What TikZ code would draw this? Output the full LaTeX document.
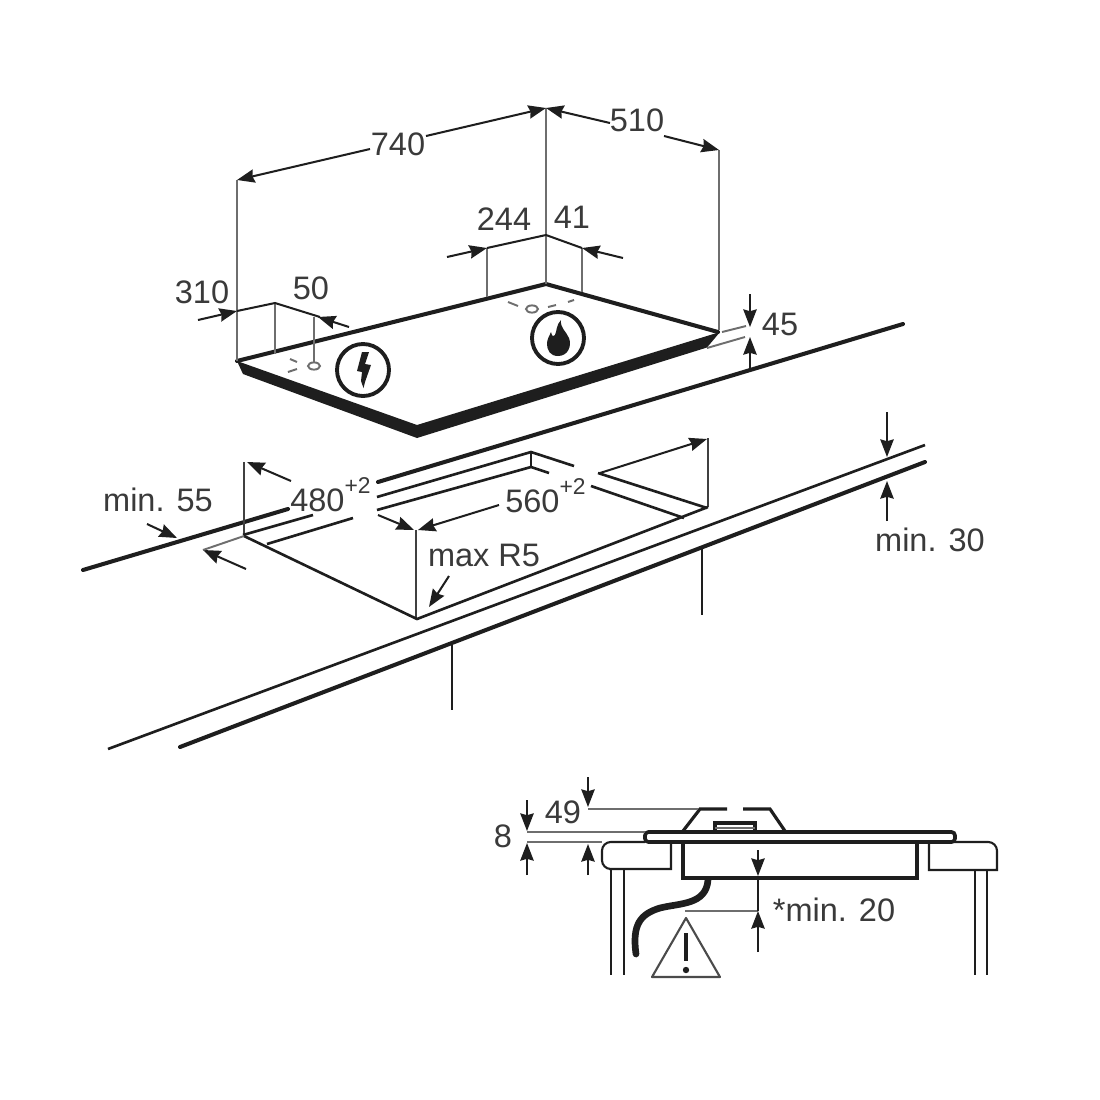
\documentclass[tikz,border=0pt]{standalone}
\usepackage{fontspec}
\setmainfont{Liberation Sans}
\usetikzlibrary{arrows.meta}
\definecolor{ink}{HTML}{1E1E1E}
\definecolor{txt}{HTML}{3A3A3A}
\definecolor{ext}{HTML}{6E6E6E}
\newcommand{\supp}[1]{\raisebox{1.05ex}{\fontsize{13}{14}\selectfont #1}}
\tikzset{
  ext1/.style={draw=ext,line width=1.1pt},
  ext2/.style={draw=ink!85,line width=0.85pt},
  thin1/.style={draw=ink,line width=1.2pt},
  mid1/.style={draw=ink,line width=1.5pt},
  heavy/.style={draw=ink,line width=2.3pt,line cap=round},
  dim/.style={draw=ink,line width=1.15pt,-{Stealth[length=10pt,width=7.6pt,inset=1pt]}},
  lab/.style={text=txt,font=\fontsize{18.5}{20}\selectfont,inner sep=0pt},
}
\begin{document}
\begin{tikzpicture}[x=0.02cm,y=-0.02cm]
\useasboundingbox[fill=white] (0,0) rectangle (1100,1100);
% ---- hob
\fill[ink] (237,361) -- (417,425) -- (707,336) -- (720,332) -- (707,347.5) -- (417,438) -- (243,374) -- cycle;
\draw[heavy] (237,361) -- (546,284) -- (718,332);
% extension lines
\draw[ext1] (237,180) -- (237,361);
\draw[ext1] (546,108) -- (546,284);
\draw[ext1] (719,150) -- (719,330);
\draw[ext1] (275,303) -- (275,354);
\draw[ext1] (314,317) -- (314,362);
\draw[ext1] (487,248) -- (487,297);
\draw[ext1] (582,248) -- (582,292);
\draw[ext1] (722,332) -- (746,326);
\draw[ext1] (707,348) -- (745,337);
% dimension arrows hob
\draw[dim] (370,149) -- (237,180);
\draw[dim] (426,136) -- (546,108);
\draw[dim] (610,123) -- (546,108);
\draw[dim] (664,136) -- (719,150);
\draw[dim] (198,320) -- (237,311);
\draw[ink,line width=1.15pt] (237,311) -- (275,303) -- (320,317);
\draw[dim] (349,327) -- (318,317);
\draw[dim] (447,257) -- (487,248);
\draw[ink,line width=1.15pt] (487,248) -- (546,235) -- (582,248);
\draw[dim] (623,258) -- (582,248);
\draw[dim] (750,294) -- (750,327);
\draw[dim] (750,370) -- (750,337);
% markers on hob
\draw[ext1] (314,366) ellipse (6 and 3.6);
\draw[ext1] (290,359) -- (297,362);
\draw[ext1] (288,372) -- (297,369);
\draw[ext1] (532,309) ellipse (6 and 3.6);
\draw[ext1] (508,302) -- (518,306);
\draw[ext1] (548,307) -- (556,305);
\draw[ext1] (568,302) -- (574,300);
% lightning symbol
\draw[ink,line width=2.2pt] (363,370) circle (26);
\fill[ink] (362,352) -- (369,352) -- (365,364) -- (371,365) -- (365,382) -- (363.5,388) -- (361,381) -- (362,372) -- (357,371) -- cycle;
% flame symbol
\draw[ink,line width=2.2pt] (558,338) circle (26);
\fill[ink] (558,356) .. controls (550,356) and (547,350) .. (547,344)
  .. controls (547,339) and (549,337) .. (551,332)
  .. controls (552,337) and (554,337) .. (555,335)
  .. controls (557,331) and (556,325) .. (561,320)
  .. controls (560,328) and (566,331) .. (569,338)
  .. controls (572,346) and (568,356) .. (558,356) -- cycle;
% ---- worktop top surface
\draw[heavy] (83,570) -- (288,509);
\draw[heavy] (378,482) -- (903,324);
% cut-out
\draw[ext2] (244,462) -- (244,536);
\draw[ext2] (416,530) -- (416,619);
\draw[ext2] (708,438) -- (708,507);
\draw[mid1] (244,536) -- (417,619) -- (708,507);
\draw[mid1] (243,535) -- (313,515);
\draw[mid1] (377,497) -- (531,452) -- (574,466);
\draw[mid1] (267,544) -- (353,518);
\draw[mid1] (377,510) -- (531,467) -- (549,473);
\draw[mid1] (531,452) -- (531,467);
\draw[mid1] (598,473) -- (707,508);
\draw[mid1] (591,486) -- (684,518);
% front of worktop
\draw[mid1] (108,749) -- (925,445);
\draw[heavy] (180,747) -- (925,462);
\draw[thin1] (452,644) -- (452,710);
\draw[thin1] (702,549) -- (702,615);
% dims on cut-out
\draw[dim] (291,481) -- (247,462);
\draw[dim] (378,515) -- (414,530);
\draw[dim] (499,505) -- (418,530);
\draw[dim] (600,473) -- (707,439);
\draw[dim] (449,576) -- (429,607);
\draw[dim] (147,524) -- (177,538);
\draw[dim] (246,569) -- (203,550);
\draw[ext1] (203,550) -- (244,536);
\draw[dim] (887,412) -- (887,457);
\draw[dim] (887,521) -- (887,481);
% ---- section view
\draw[ink,line width=2.1pt,rounded corners=2pt,fill=white] (645,832) rectangle (955,842);
\draw[ink,line width=2.1pt,line join=miter] (683,842) -- (683,878) -- (917,878) -- (917,842);
\draw[ink,line width=1.8pt] (683,831) -- (700,809) -- (727,809);
\draw[ink,line width=1.8pt] (743,809) -- (770,809) -- (785,831);
\draw[ink,line width=2pt] (715,831) -- (715,823) -- (755,823) -- (755,831);
\draw[ext1] (715,828) -- (755,828);
\draw[thin1] (671,842) -- (671,869) -- (609,869) [rounded corners=5pt] -- (602,869) -- (602,842) -- (645,842);
\draw[thin1] (955,842) -- (929,842) -- (929,870) -- (997,870) [rounded corners=5pt] -- (997,842) -- (955,842);
\draw[thin1] (611,869) -- (611,975);
\draw[thin1] (624,869) -- (624,975);
\draw[thin1] (975,870) -- (975,975);
\draw[thin1] (987,870) -- (987,975);
\draw[ink,line width=3.8pt,line cap=round] (708,880) .. controls (706,905) and (680,903) .. (660,908) .. controls (640,914) and (632,925) .. (636,954);
% section dims
\draw[ext1] (588,809) -- (698,809);
\draw[ext1] (527,832) -- (645,832);
\draw[ext1] (527,842) -- (602,842);
\draw[ext1] (685,911) -- (758,911);
\draw[dim] (588,777) -- (588,807);
\draw[dim] (527,800) -- (527,831);
\draw[dim] (527,875) -- (527,843);
\draw[dim] (588,875) -- (588,844);
\draw[dim] (758,850) -- (758,876);
\draw[dim] (758,952) -- (758,911);
\draw[ink,line width=1.15pt] (758,878) -- (758,911);
% warning
\draw[ink!80,line width=1.2pt,line join=round] (686,918) -- (652,977) -- (720,977) -- cycle;
\draw[ink,line width=1.8pt] (686,933) -- (686,961);
\fill[ink] (686,970) circle (3.2);
% labels
\node[lab] (l740) at (398,144) {740};
\node[lab] (l510) at (637,120) {510};
\node[lab] (l244) at (504,219) {244};
\node[lab] (l41) at (572,217) {41};
\node[lab] (l310) at (202,292) {310};
\node[lab] (l50) at (311,288) {50};
\node[lab] (l45) at (780,324) {45};
\node[lab] (lm55) at (158,500) {min. 55};
\node[lab,anchor=west] (l480) at (290,495) {480\supp{+2}};
\node[lab,anchor=west] (l560) at (505,496) {560\supp{+2}};
\node[lab] (lr5) at (484,555) {max R5};
\node[lab] (lm30) at (930,540) {min. 30};
\node[lab] (l49) at (563,812) {49};
\node[lab] (l8) at (503,836) {8};
\node[lab] (lm20) at (834,910) {*min. 20};
\end{tikzpicture}
\end{document}
